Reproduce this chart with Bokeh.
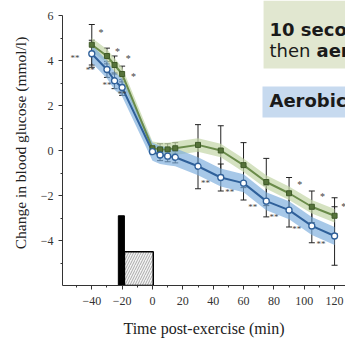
from bokeh.plotting import figure
from bokeh.models import Range1d, FixedTicker, ColumnDataSource, Whisker, TeeHead, BoxAnnotation, Label
from bokeh.core.properties import value
from bokeh.embed import file_html
from bokeh.resources import INLINE

# ---- data ----
times = [-40, -30, -25, -20, 0, 5, 10, 15, 30, 45, 60, 75, 90, 105, 120]
sprint_mean = [4.7, 4.2, 3.8, 3.4, 0.1, 0.05, 0.05, 0.1, 0.25, 0.0, -0.65, -1.4, -1.9, -2.5, -2.9]
sprint_err = [0.9, 0.35, 0.4, 0.35, 0.0, 0.25, 0.25, 0.25, 0.9, 1.1, 1.0, 1.05, 0.7, 0.7, 0.8]
aerobic_mean = [4.3, 3.6, 3.1, 2.8, -0.05, -0.2, -0.25, -0.3, -0.7, -1.2, -1.45, -2.25, -2.65, -3.35, -3.8]
aerobic_err = [0.6, 0.35, 0.35, 0.35, 0.0, 0.25, 0.25, 0.25, 1.0, 0.6, 0.75, 0.7, 0.75, 0.75, 1.3]
sprint_band = 0.3
aerobic_band = 0.4

star_t = [-34, -23, -16, -12.5, 97, 112, 126]
star_v = [5.25, 4.4, 4.1, 3.3, -1.5, -2.05, -2.5]
dstar_t = [-51, -41, -30, -20, 35, 51, 66, 80, 95, 111]
dstar_v = [4.1, 3.6, 2.9, 2.5, -1.45, -1.85, -2.5, -2.95, -3.5, -4.15]

sprint_bar = dict(left=[-22.5], right=[-18.5], top=[-2.9])
aerobic_bar = dict(left=[-18.5], right=[0.5], top=[-4.5])

x_major = [-40, -20, 0, 20, 40, 60, 80, 100, 120]
x_minor = [-50, -30, -10, 10, 30, 50, 70, 90, 110]
y_major = [-4, -2, 0, 2, 4, 6]
y_minor = [-5, -3, -1, 1, 3, 5]

serif = "Liberation Serif"

p = figure(width=345, height=342, x_range=Range1d(-59.3, 127.2), y_range=Range1d(-6, 6.667),
           output_backend="svg", toolbar_location=None,
           min_border_left=62, min_border_right=0, min_border_top=0, min_border_bottom=57)
p.outline_line_color = None
p.grid.visible = False
p.background_fill_color = "white"

# legend boxes (behind)
p.add_layout(BoxAnnotation(left=73.2, bottom=3.64, fill_color="#e1e7d0", fill_alpha=1.0,
                           line_color=None, level="underlay"))
p.add_layout(BoxAnnotation(left=72.5, top=2.84, bottom=1.47, fill_color="#c7daef", fill_alpha=1.0,
                           line_color=None, level="underlay"))

# bars at bottom
p.quad(left=sprint_bar["left"], right=sprint_bar["right"], bottom=-6, top=sprint_bar["top"],
       fill_color="black", line_color="black")
p.quad(left=aerobic_bar["left"], right=aerobic_bar["right"], bottom=-6, top=aerobic_bar["top"],
       fill_color="#f4f4f4", line_color="black", line_width=1.5,
       hatch_pattern="/", hatch_color="#888888", hatch_scale=5, hatch_weight=0.7)

# bands
p.varea(x=times, y1=[m - sprint_band for m in sprint_mean], y2=[m + sprint_band for m in sprint_mean],
        fill_color="#c3d5a6", fill_alpha=0.7)
p.varea(x=times, y1=[m - aerobic_band for m in aerobic_mean], y2=[m + aerobic_band for m in aerobic_mean],
        fill_color="#78aadb", fill_alpha=0.65)

# error bars
src = ColumnDataSource(dict(
    t=[t for t, e in zip(times, sprint_err) if e > 0],
    gu=[m + e for m, e in zip(sprint_mean, sprint_err) if e > 0],
    gl=[m - e for m, e in zip(sprint_mean, sprint_err) if e > 0],
    bu=[m + e for m, e in zip(aerobic_mean, aerobic_err) if e > 0],
    bl=[m - e for m, e in zip(aerobic_mean, aerobic_err) if e > 0],
))
for up, lo in (("gu", "gl"), ("bu", "bl")):
    p.add_layout(Whisker(source=src, base="t", upper=up, lower=lo, line_color="#222222", line_width=1,
                         upper_head=TeeHead(size=6, line_color="#222222", line_width=1),
                         lower_head=TeeHead(size=6, line_color="#222222", line_width=1)))

# lines and markers
p.line(times, sprint_mean, line_color="#6a8b4a", line_width=2)
p.line(times, aerobic_mean, line_color="#2f609a", line_width=2)
p.scatter(times, sprint_mean, marker="square", size=5, fill_color="#56733a", line_color="#3f5a28")
p.scatter(times, aerobic_mean, marker="circle", size=6, fill_color="white", line_color="#2f609a",
          line_width=1.3)

# significance marks
p.text(x=star_t, y=star_v, text=["*"] * len(star_t), text_font=value(serif), text_font_size="10px",
       text_color="#444444", text_align="center", text_baseline="middle")
p.text(x=dstar_t, y=dstar_v, text=["**"] * len(dstar_t), text_font=value(serif), text_font_size="9px",
       text_color="#444444", text_align="center", text_baseline="middle")

# legend texts
font = "DejaVu Sans"
common = dict(text_font=font, text_font_size="18px", text_color="#1a1a1a", text_baseline="alphabetic")
p.add_layout(Label(x=77.1, y=5.38, text="10 second sprint", text_font_style="bold", **common))
p.add_layout(Label(x=77.1, y=4.44, text="then", **common))
p.add_layout(Label(x=108.1, y=4.44, text="aerobic", text_font_style="bold", **common))
p.add_layout(Label(x=77.1, y=2.22, text="Aerobic", text_font_style="bold", **common))

# axes
for ax in (p.xaxis[0], p.yaxis[0]):
    ax.axis_line_color = "#333333"
    ax.major_tick_line_color = "#333333"
    ax.minor_tick_line_color = "#333333"
    ax.major_tick_in = 0
    ax.major_tick_out = 4
    ax.minor_tick_in = 0
    ax.minor_tick_out = 2
    ax.major_label_text_font = serif
    ax.major_label_text_font_size = "12px"
    ax.major_label_text_color = "#333333"
    ax.axis_label_text_font = serif
    ax.axis_label_text_font_style = "normal"
    ax.axis_label_text_color = "#222222"

p.xaxis.major_label_standoff = 7
p.yaxis.major_label_standoff = 5
p.xaxis.axis_label_text_font_size = "16px"
p.yaxis.axis_label_text_font_size = "15.5px"
p.xaxis.ticker = FixedTicker(ticks=x_major, minor_ticks=x_minor)
p.yaxis.ticker = FixedTicker(ticks=y_major, minor_ticks=y_minor)
p.yaxis.bounds = (-6, 6)
p.xaxis.major_label_overrides = {-40: "\u221240", -20: "\u221220"}
p.yaxis.major_label_overrides = {-2: "\u22122", -4: "\u22124"}
p.xaxis.axis_label = "Time post-exercise (min)"
p.yaxis.axis_label = "Change in blood glucose (mmol/l)"
p.xaxis.axis_label_standoff = 12
p.yaxis.axis_label_standoff = 9

open("out.html", "w").write(file_html(p, INLINE))
